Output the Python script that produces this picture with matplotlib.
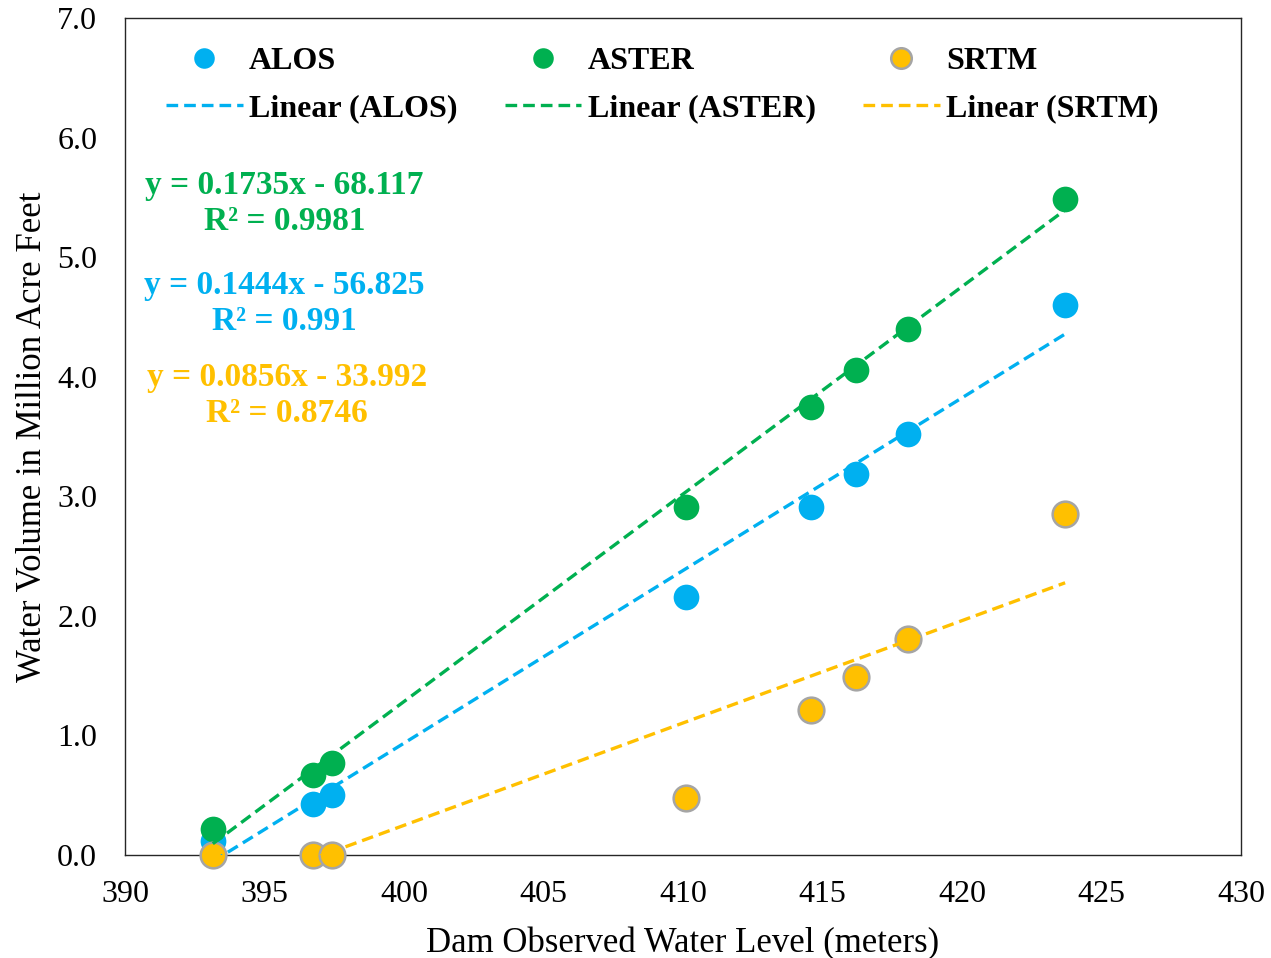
import matplotlib
matplotlib.use("Agg")
import numpy as np
import matplotlib.pyplot as plt

plt.rcParams["font.family"] = ["Liberation Serif", "DejaVu Serif"]

# Observed dam water level (m) and storage volume (million acre feet) from each DEM
level = [393.15, 396.74, 397.42, 410.1, 414.6, 416.2, 418.06, 423.7]
alos = [0.12, 0.43, 0.50, 2.16, 2.91, 3.19, 3.52, 4.60]
aster = [0.22, 0.67, 0.77, 2.91, 3.75, 4.06, 4.40, 5.49]
srtm = [0.0, 0.0, 0.0, 0.48, 1.21, 1.49, 1.81, 2.85]

# Excel linear trendline coefficients (slope, intercept, R²)
names = ["ALOS", "ASTER", "SRTM"]
slopes = [0.1444, 0.1735, 0.0856]
intercepts = [-56.825, -68.117, -33.992]
r2 = ["0.991", "0.9981", "0.8746"]

colors = {"ALOS": "#00B0F0", "ASTER": "#00B050", "SRTM": "#FFC000"}

fig = plt.figure(figsize=(12.71, 9.58), dpi=100)
ax = fig.add_axes([0.0983, 0.1075, 0.878, 0.8737])

series = {"ALOS": alos, "ASTER": aster, "SRTM": srtm}
handles = []
for name in names:
    edge = "#A5A5A5" if name == "SRTM" else colors[name]
    mk, = ax.plot(level, series[name], linestyle="none", marker="o", markersize=18.5,
                  markerfacecolor=colors[name], markeredgecolor=edge,
                  markeredgewidth=1.8 if name == "SRTM" else 0, clip_on=False,
                  label=name, zorder=3)
    handles.append(mk)

x = np.array([min(level), max(level)])
for name, m, b in zip(names, slopes, intercepts):
    ln, = ax.plot(x, m * x + b, color=colors[name], linestyle=(0, (3.5, 1.8)),
                  linewidth=2.4, label="Linear ({})".format(name), zorder=4)
    handles.append(ln)

order = [0, 3, 1, 4, 2, 5]
leg = ax.legend([handles[i] for i in order], [handles[i].get_label() for i in order],
                ncol=3, loc="upper left", bbox_to_anchor=(0.011, 1.0), frameon=False,
                prop={"weight": "bold", "size": 23}, handlelength=2.4, handletextpad=0.2,
                columnspacing=1.48, labelspacing=0.55, markerscale=0.8)

# trendline equations
eq_pos = {"ASTER": (0.143, 0.778), "ALOS": (0.143, 0.659), "SRTM": (0.145, 0.549)}
for name, m, b, r in zip(names, slopes, intercepts, r2):
    tx, ty = eq_pos[name]
    ax.text(tx, ty, "y = {}x - {}\nR² = {}".format(m, -b, r), transform=ax.transAxes,
            ha="center", va="center", color=colors[name], fontsize=24,
            fontweight="bold", linespacing=1.2)

ax.set_xlim(390, 430)
ax.set_ylim(0, 7)
ax.set_xticks(range(390, 431, 5))
ax.set_yticks(np.arange(0, 7.1, 1.0))
ax.set_yticklabels(["{:.1f}".format(v) for v in np.arange(0, 7.1, 1.0)])
ax.tick_params(length=0, labelsize=23)
ax.tick_params(axis="y", pad=20)
ax.tick_params(axis="x", pad=18)
for sp in ax.spines.values():
    sp.set_linewidth(1.0)
    sp.set_color("#262626")

ax.set_xlabel("Dam Observed Water Level (meters)", fontsize=25, labelpad=13)
ax.set_ylabel("Water Volume in Million Acre Feet", fontsize=25, labelpad=6)

fig.savefig("out.png", dpi=100)
